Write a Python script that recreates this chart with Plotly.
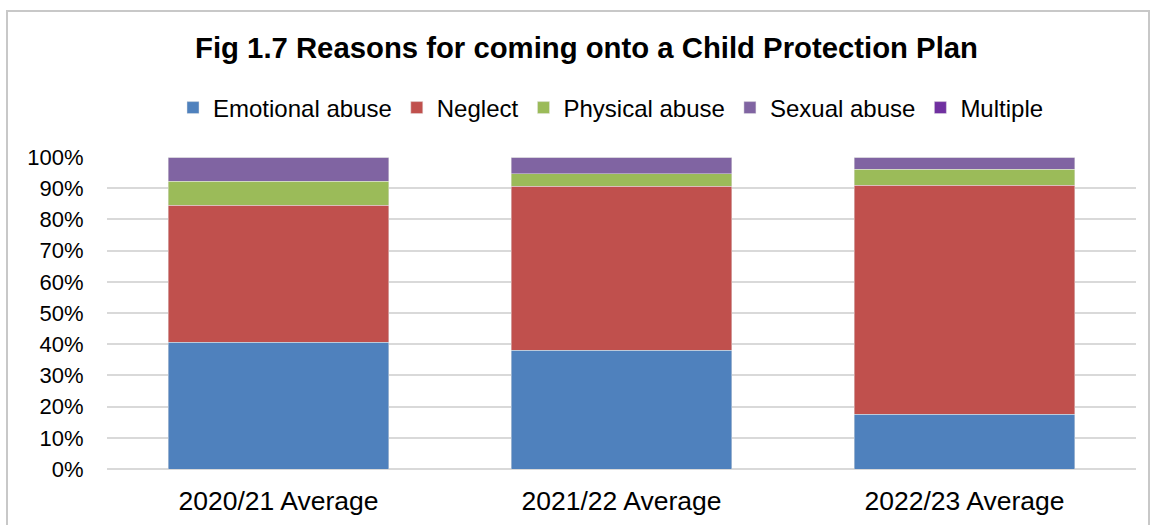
import plotly.graph_objects as go

categories = ["2020/21 Average", "2021/22 Average", "2022/23 Average"]
emotional = [0.406, 0.380, 0.176]
neglect = [0.439, 0.527, 0.733]
physical = [0.077, 0.040, 0.051]
sexual = [0.078, 0.053, 0.040]
multiple = [0.0, 0.0, 0.0]

series = [
    ("Emotional abuse", emotional, "#4F81BD"),
    ("Neglect", neglect, "#C0504D"),
    ("Physical abuse", physical, "#9BBB59"),
    ("Sexual abuse", sexual, "#8064A2"),
    ("Multiple", multiple, "#7030A0"),
]

FONT = "Liberation Sans, Arial, sans-serif"

fig = go.Figure()
for name, vals, col in series:
    fig.add_trace(go.Bar(
        name=name, x=categories, y=vals,
        marker=dict(color=col, line=dict(width=0.6, color="rgba(230,230,230,0.8)")),
    ))

W, H = 1150, 525
L, R, T, B = 107, 14, 157, 56
pw = W - L - R
ph = H - T - B

def px_to_paper_x(px):
    return (px - L) / pw

def px_to_paper_y(py):
    return (H - B - py) / ph

fig.update_layout(
    width=W, height=H,
    barmode="stack", bargap=0.356,
    margin=dict(l=L, r=R, t=T, b=B, autoexpand=False),
    paper_bgcolor="white", plot_bgcolor="white",
    font=dict(family=FONT, color="#000000", size=22),
    title=dict(
        text="<b>Fig 1.7 Reasons for coming onto a Child Protection Plan</b>",
        font=dict(family=FONT, size=29.3, color="#000000"),
        x=586.5 / W, xanchor="center", xref="container",
        y=1 - 48 / H, yanchor="middle", yref="container",
    ),
    legend=dict(
        orientation="h", traceorder="normal",
        x=px_to_paper_x(611), xanchor="center",
        y=px_to_paper_y(108), yanchor="middle",
        font=dict(family=FONT, size=24, color="#000000"),
        itemwidth=30, tracegroupgap=0,
        bgcolor="rgba(0,0,0,0)",
    ),
    showlegend=True,
    xaxis=dict(
        showgrid=False, showline=False, zeroline=False, automargin=False,
        ticks="outside", ticklen=8, tickcolor="rgba(0,0,0,0)",
        tickfont=dict(family=FONT, size=26.5, color="#000000"),
    ),
    yaxis=dict(
        range=[0, 1], tickformat=".0%", dtick=0.1, automargin=False,
        showgrid=True, gridcolor="#d9d9d9", gridwidth=2,
        zeroline=True, zerolinecolor="#d9d9d9", zerolinewidth=2,
        showline=False,
        ticks="outside", ticklen=18, tickcolor="rgba(0,0,0,0)",
        tickfont=dict(family=FONT, size=22, color="#000000"),
    ),
    shapes=[dict(
        type="rect", xref="paper", yref="paper",
        x0=px_to_paper_x(7), x1=px_to_paper_x(1149),
        y0=px_to_paper_y(540), y1=px_to_paper_y(11),
        line=dict(color="#c8c8c8", width=2), fillcolor="rgba(0,0,0,0)",
        layer="below",
    )],
)

fig.write_html(
    "out.html",
    config={"displayModeBar": False},
    post_script="document.body.style.margin='0';document.body.style.padding='0';document.body.style.overflow='hidden';",
)
